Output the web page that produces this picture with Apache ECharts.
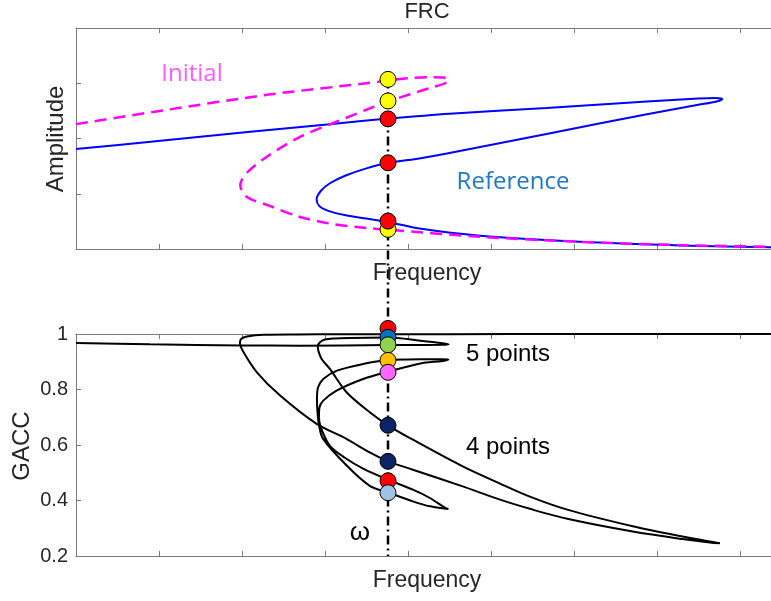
<!DOCTYPE html>
<html>
<head>
<meta charset="utf-8">
<script src="https://cdn.jsdelivr.net/npm/echarts@6/dist/echarts.min.js"></script>
<style>
  body { margin: 0; background: #fff; }
  #main { width: 771px; height: 601px; }
</style>
</head>
<body>
<div id="main"></div>
<script>
// frequency in tick units, amplitude in tick units, GACC
var omega = 3.76;

var referenceCurve = [
    [0, 1.81], [0.9, 1.94], [2.1, 2.12], [3.06, 2.26], [3.76, 2.36], [4.5, 2.45], [5.67, 2.55],
    [6.88, 2.67], [7.5, 2.725], [7.7, 2.735], [7.79, 2.715], [7.72, 2.67], [7.5, 2.61],
    [6.88, 2.44], [5.67, 2.08], [4.47, 1.73], [4.1, 1.63], [3.76, 1.56], [3.5, 1.46], [3.25, 1.33],
    [3.06, 1.19], [2.95, 1.05], [2.9, 0.9], [2.93, 0.78], [3.04, 0.69], [3.25, 0.61], [3.5, 0.55],
    [3.76, 0.49], [4.14, 0.37], [4.87, 0.24], [6.07, 0.13], [7.28, 0.065], [8.37, 0.03], [9, 0.015]
];

var initialCurve = [
    [0, 2.26], [1.1, 2.52], [2.3, 2.79], [3.5, 3.0], [3.76, 3.05], [4.0, 3.09], [4.25, 3.11],
    [4.42, 3.105], [4.49, 3.07], [4.45, 3.0], [4.3, 2.93], [4.15, 2.86], [3.9, 2.74], [3.76, 2.67],
    [3.5, 2.52], [3.1, 2.28], [2.7, 2.03], [2.3, 1.67], [2.06, 1.38], [1.98, 1.16], [2.06, 0.94],
    [2.3, 0.8], [2.7, 0.58], [3.1, 0.45], [3.5, 0.38], [3.76, 0.35], [4.87, 0.22], [6.07, 0.13],
    [7.28, 0.07], [8.37, 0.04], [9, 0.02]
];

var initialPoints = [3.07, 2.68, 0.355];
var referencePoints = [2.355, 1.56, 0.505];

var gaccCurveA = [
    [0, 0.968], [0.89, 0.963], [2.0, 0.959], [2.7, 0.958], [3.76, 0.96], [4.15, 0.9605], [4.42, 0.961],
    [4.49, 0.963], [4.42, 0.967], [4.15, 0.976], [3.76, 0.987], [3.3, 0.986], [3.1, 0.984], [3.0, 0.98],
    [2.94, 0.97], [2.915, 0.955], [2.92, 0.94], [2.96, 0.91], [3.06, 0.874], [3.26, 0.79], [3.54, 0.718],
    [3.76, 0.671], [4.06, 0.619], [4.66, 0.523], [5.11, 0.461], [5.47, 0.414], [5.92, 0.367],
    [6.71, 0.307], [7.31, 0.27], [7.64, 0.252], [7.76, 0.246], [7.64, 0.249], [7.31, 0.261],
    [6.71, 0.288], [5.92, 0.334], [5.47, 0.37], [5.11, 0.403], [4.66, 0.451], [4.06, 0.511],
    [3.76, 0.541], [3.54, 0.573], [3.26, 0.622], [2.9, 0.676], [2.46, 0.778], [2.18, 0.862],
    [2.02, 0.934], [1.976, 0.968], [1.99, 0.982], [2.06, 0.991], [2.26, 0.9975], [2.66, 0.9985],
    [3.2, 0.999], [3.76, 0.999], [4.5, 0.9995], [6, 1.0], [9, 1.0]
];

var gaccCurveB = [
    [3.76, 0.907], [4.15, 0.909], [4.42, 0.909], [4.488, 0.908], [4.42, 0.903], [4.15, 0.894],
    [3.76, 0.864], [3.46, 0.838], [3.14, 0.796], [2.98, 0.76], [2.934, 0.735], [2.928, 0.7],
    [2.952, 0.662], [3.06, 0.597], [3.24, 0.554], [3.46, 0.515], [3.76, 0.475], [4.06, 0.439],
    [4.265, 0.409], [4.44, 0.375], [4.488, 0.369], [4.44, 0.371], [4.265, 0.379], [4.06, 0.397],
    [3.76, 0.429], [3.54, 0.453], [3.265, 0.525], [2.976, 0.623], [2.928, 0.672], [2.91, 0.72],
    [2.904, 0.763], [2.916, 0.807], [2.98, 0.838], [3.145, 0.868], [3.461, 0.892], [3.76, 0.907]
];

var gaccPoints = [1.02, 0.9885, 0.961, 0.905, 0.862, 0.671, 0.541, 0.471, 0.428];
var gaccColors = ['#ff0000', '#0070c0', '#92d050', '#ffc000', '#ff66ff', '#0b2463', '#0b2463', '#ff0000', '#9dc3e6'];

var gaccTicks = [0.2, 0.4, 0.6, 0.8, 1];

var axisGray = '#7a7a7a';
var textGray = '#262626';

function boxAxis(grid, pos) {
    return {
        gridIndex: grid, type: 'value', position: pos,
        min: 0, max: 8.46, interval: 1,
        axisLine: { onZero: false, lineStyle: { color: axisGray, width: 1 } },
        axisTick: { inside: true, length: 5, lineStyle: { color: axisGray } },
        axisLabel: { show: false },
        splitLine: { show: false }
    };
}

var myChart = echarts.init(document.getElementById('main'));

var option = {
    animation: false,
    backgroundColor: '#fff',
    grid: [
        // the right edge of the plot box sits just past the window
        { left: 76, top: 28, width: 702, height: 221, outerBoundsMode: 'none' },
        { left: 76, top: 334, width: 702, height: 222, outerBoundsMode: 'none' }
    ],
    xAxis: [boxAxis(0, 'bottom'), boxAxis(0, 'top'), boxAxis(1, 'bottom'), boxAxis(1, 'top')],
    yAxis: [
        {
            gridIndex: 0, type: 'value', min: 0, max: 4, interval: 1,
            axisLine: { show: true, onZero: false, lineStyle: { color: axisGray } },
            axisTick: { show: true, inside: true, length: 5, lineStyle: { color: axisGray } },
            axisLabel: { show: false },
            splitLine: { show: false }
        },
        {
            gridIndex: 1, type: 'value', min: gaccTicks[0], max: gaccTicks[gaccTicks.length - 1], interval: 0.2,
            axisLine: { show: true, onZero: false, lineStyle: { color: axisGray } },
            axisTick: { show: true, inside: true, length: 5, lineStyle: { color: axisGray } },
            axisLabel: { color: textGray, fontSize: 20, fontFamily: 'Liberation Sans', margin: 8 },
            splitLine: { show: false }
        }
    ],
    series: [
        {
            name: 'Reference', type: 'line', xAxisIndex: 0, yAxisIndex: 0,
            data: referenceCurve, symbol: 'none', smooth: 0.3,
            lineStyle: { color: '#0000ff', width: 2 }
        },
        {
            name: 'Initial', type: 'line', xAxisIndex: 0, yAxisIndex: 0,
            data: initialCurve, symbol: 'none', smooth: 0.3,
            lineStyle: { color: '#ff00ff', width: 2.5, type: [12, 7] }
        },
        {
            type: 'scatter', xAxisIndex: 0, yAxisIndex: 0, symbolSize: 16, z: 10,
            data: initialPoints.map(function (v) { return [omega, v]; }),
            itemStyle: { color: '#ffff00', borderColor: '#000', borderWidth: 1, opacity: 1 }
        },
        {
            type: 'scatter', xAxisIndex: 0, yAxisIndex: 0, symbolSize: 16, z: 10,
            data: referencePoints.map(function (v) { return [omega, v]; }),
            itemStyle: { color: '#ff0000', borderColor: '#000', borderWidth: 1, opacity: 1 }
        },
        {
            type: 'line', xAxisIndex: 2, yAxisIndex: 1,
            data: gaccCurveA, symbol: 'none', smooth: 0.3,
            lineStyle: { color: '#000', width: 2 }
        },
        {
            type: 'line', xAxisIndex: 2, yAxisIndex: 1,
            data: gaccCurveB, symbol: 'none', smooth: 0.3,
            lineStyle: { color: '#000', width: 2 }
        },
        {
            type: 'scatter', xAxisIndex: 2, yAxisIndex: 1, symbolSize: 16, clip: false, z: 10,
            data: gaccPoints.map(function (v, i) {
                return { value: [omega, v], itemStyle: { color: gaccColors[i] } };
            }),
            itemStyle: { borderColor: '#000', borderWidth: 1, opacity: 1 }
        }
    ]
};
myChart.setOption(option);

function label(text, x, y, font, color, rot) {
    return {
        type: 'text', x: x, y: y, rotation: rot || 0,
        style: { text: text, font: font, fill: color, align: 'center', verticalAlign: 'middle' }
    };
}

// dash-dot marker line at omega, from the top FRC point down to the GACC axis
var p1 = myChart.convertToPixel({ xAxisIndex: 0, yAxisIndex: 0 }, [omega, initialPoints[0]]);
var p2 = myChart.convertToPixel({ xAxisIndex: 2, yAxisIndex: 1 }, [omega, gaccTicks[0]]);

myChart.setOption({
    graphic: [
        {
            type: 'line', z: 0,
            shape: { x1: p1[0], y1: p1[1], x2: p2[0], y2: p2[1] },
            style: { stroke: '#000', lineWidth: 2.5, lineDash: [9, 4, 2, 4] }
        },
        label('FRC', 427, 12, '22px Liberation Sans', textGray),
        label('Frequency', 427, 274, '23px Liberation Sans', textGray),
        label('Frequency', 427, 581, '23px Liberation Sans', textGray),
        label('Amplitude', 56, 139, '24px Liberation Sans', textGray, Math.PI / 2),
        label('GACC', 22, 446, '24px Liberation Sans', textGray, Math.PI / 2),
        label('Initial', 192, 74, '24px Open Sans', '#ff5cff'),
        label('Reference', 513, 182, '24px Open Sans', '#1f77c4'),
        label('5 points', 508, 354, '24px Liberation Sans', '#000'),
        label('4 points', 508, 447, '24px Liberation Sans', '#000'),
        label('ω', 360, 533, '26px Liberation Sans', '#000')
    ]
});
</script>
</body>
</html>
